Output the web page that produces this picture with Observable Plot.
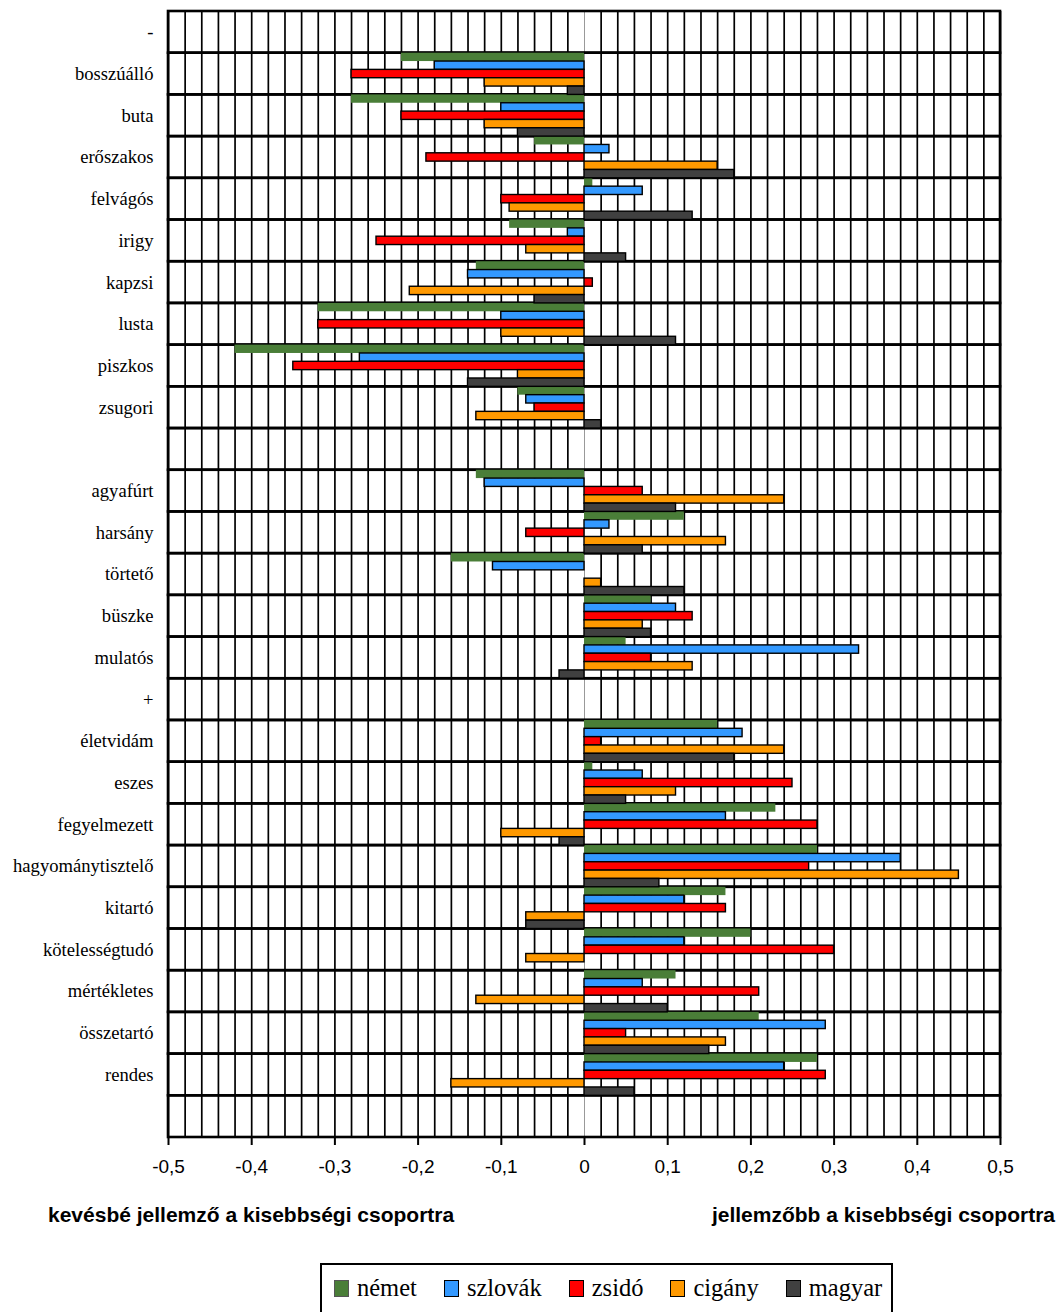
<!DOCTYPE html>
<html>
<head>
<meta charset="utf-8">
<script src="https://cdn.jsdelivr.net/npm/d3@7"></script>
<script src="https://cdn.jsdelivr.net/npm/@observablehq/plot@0.6"></script>
<style>
  body { margin: 0; background: #fff; }
  #wrap { position: relative; width: 1058px; height: 1312px; overflow: hidden; background: #fff; }
  #chart svg { display: block; }
  #chart [aria-label^="y-axis"] text { font-family: "Liberation Serif", "Times New Roman", serif; font-size: 18.6px; fill: #000; }
  #chart [aria-label^="x-axis"] text { font-family: "Liberation Sans", Arial, sans-serif; font-size: 19px; fill: #000; }
  #chart [aria-label^="x-axis"] line, #chart [aria-label^="x-axis"] path { stroke: #000; stroke-width: 2px; }
  .note { position: absolute; top: 1203px; font: bold 21px "Liberation Sans", Arial, sans-serif; color: #000; white-space: nowrap; }
  #legend { position: absolute; left: 320px; top: 1263px; width: 573px; height: 80px; box-sizing: border-box;
            border: 2px solid #000; display: flex; align-items: flex-start; padding: 8px 0 0 12px; gap: 27px;
            font: 24.5px "Liberation Serif", "Times New Roman", serif; line-height: 30px; color: #000; }
  #legend .item { display: flex; align-items: center; white-space: nowrap; }
  #legend .sw { display: inline-block; width: 15px; height: 17px; border: 1.5px solid #000; margin-right: 8px; box-sizing: border-box; }
</style>
</head>
<body>
<div id="wrap">
  <div id="chart"></div>
  <div class="note" style="left:48px;">kevésbé jellemző a kisebbségi csoportra</div>
  <div class="note" style="right:3px;">jellemzőbb a kisebbségi csoportra</div>
  <div id="legend"></div>
</div>
<script>
// ---- data ----
const categories = ["-", "bosszúálló", "buta", "erőszakos", "felvágós", "irigy", "kapzsi", "lusta", "piszkos", "zsugori", "",
  "agyafúrt", "harsány", "törtető", "büszke", "mulatós", "+",
  "életvidám", "eszes", "fegyelmezett", "hagyománytisztelő", "kitartó", "kötelességtudó", "mértékletes", "összetartó", "rendes", " "];

const seriesNames = ["német", "szlovák", "zsidó", "cigány", "magyar"];
const seriesColors = ["#4a7e38", "#3399ff", "#ff0000", "#ff9900", "#404040"];

const nemet   = [null, -0.22, -0.28, -0.06, 0.01, -0.09, -0.13, -0.32, -0.42, -0.08, null, -0.13, 0.12, -0.16, 0.08, 0.05, null, 0.16, 0.01, 0.23, 0.28, 0.17, 0.20, 0.11, 0.21, 0.28, null];
const szlovak = [null, -0.18, -0.10, 0.03, 0.07, -0.02, -0.14, -0.10, -0.27, -0.07, null, -0.12, 0.03, -0.11, 0.11, 0.33, null, 0.19, 0.07, 0.17, 0.38, 0.12, 0.12, 0.07, 0.29, 0.24, null];
const zsido   = [null, -0.28, -0.22, -0.19, -0.10, -0.25, 0.01, -0.32, -0.35, -0.06, null, 0.07, -0.07, 0.00, 0.13, 0.08, null, 0.02, 0.25, 0.28, 0.27, 0.17, 0.30, 0.21, 0.05, 0.29, null];
const cigany  = [null, -0.12, -0.12, 0.16, -0.09, -0.07, -0.21, -0.10, -0.08, -0.13, null, 0.24, 0.17, 0.02, 0.07, 0.13, null, 0.24, 0.11, -0.10, 0.45, -0.07, -0.07, -0.13, 0.17, -0.16, null];
const magyar  = [null, -0.02, -0.08, 0.18, 0.13, 0.05, -0.06, 0.11, -0.14, 0.02, null, 0.11, 0.07, 0.12, 0.08, -0.03, null, 0.18, 0.05, -0.03, 0.09, -0.07, 0.00, 0.10, 0.15, 0.06, null];

const xTickLabels = [-0.5, -0.4, -0.3, -0.2, -0.1, 0, 0.1, 0.2, 0.3, 0.4, 0.5];

// ---- layout ----
const W = 1058, H = 1185, mT = 11, mB = 48, mL = 168, mR = 58;
const bw = (H - mT - mB) / categories.length;
const seriesValues = [nemet, szlovak, zsido, cigany, magyar];

const rows = [];
categories.forEach((c, i) => {
  seriesValues.forEach((arr, s) => rows.push({cat: c, series: seriesNames[s], s, value: arr[i]}));
});

const gridTicks = d3.range(-25, 26).map(i => i / 50).filter(t => t !== 0);

const barMarks = seriesNames.map((name, s) =>
  Plot.barX(rows.filter(d => d.s === s && d.value), {
    y: "cat",
    x1: () => 0,
    x2: "value",
    fill: seriesColors[s],
    stroke: s === 0 ? "none" : "#000",
    strokeWidth: 1.4,
    insetTop: s * bw / 5,
    insetBottom: (4 - s) * bw / 5
  })
);

const chart = Plot.plot({
  width: W,
  height: H,
  marginTop: mT,
  marginBottom: mB,
  marginLeft: mL,
  marginRight: mR,
  x: {
    domain: [-0.5, 0.5],
    ticks: xTickLabels,
    tickFormat: d => String(d).replace(".", ","),
    tickSize: 8,
    tickPadding: 14,
    label: null
  },
  y: {
    domain: categories,
    padding: 0,
    round: false,
    tickSize: 0,
    tickPadding: 15,
    tickFormat: d => d.trim(),
    label: null
  },
  marks: [
    Plot.ruleX(gridTicks, {stroke: "#000", strokeWidth: 1.7}),
    Plot.ruleX([0], {stroke: "#999", strokeWidth: 1}),
    Plot.barX(categories, {y: d => d, x1: () => -0.5, x2: () => 0.5, fill: "none", stroke: "#000", strokeWidth: 2.6}),
    ...barMarks
  ]
});
document.getElementById("chart").appendChild(chart);

// ---- legend ----
const legend = document.getElementById("legend");
seriesNames.forEach((name, s) => {
  const item = document.createElement("span");
  item.className = "item";
  const sw = document.createElement("span");
  sw.className = "sw";
  sw.style.background = seriesColors[s];
  if (s === 0) sw.style.borderColor = "#555";
  const t = document.createElement("span");
  t.textContent = name;
  item.appendChild(sw);
  item.appendChild(t);
  legend.appendChild(item);
});
</script>
</body>
</html>
